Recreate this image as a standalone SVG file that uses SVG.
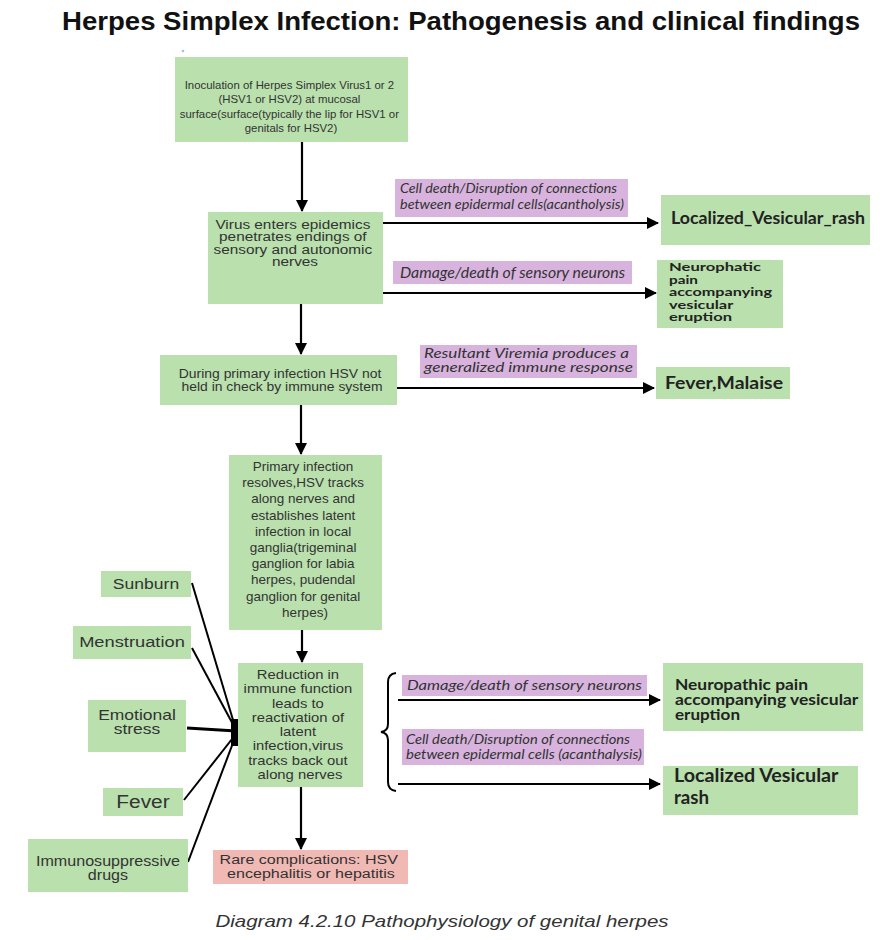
<svg xmlns="http://www.w3.org/2000/svg" width="891" height="940" viewBox="0 0 891 940">
<style>
.g{fill:#b9e0ad}
.p{fill:#d7b3dd}
.r{fill:#f1b9b4}
.t{font-family:"Liberation Sans",Arial,sans-serif;fill:#333;text-anchor:middle}
.i{font-family:Lato,"Open Sans",sans-serif;font-style:italic;fill:#333}
.b{font-family:Lato,"Open Sans",sans-serif;font-weight:bold;fill:#222}
.c{stroke:#000;stroke-width:2.2;fill:none}
.f{stroke:#000;stroke-width:2;fill:none}
</style>
<defs>
<marker id="ah" markerUnits="userSpaceOnUse" markerWidth="12" markerHeight="12" refX="11" refY="6" orient="auto">
<path d="M0,0 L12,6 L0,12 z" fill="#000"/>
</marker>
</defs>
<rect width="891" height="940" fill="#fff"/>
<text x="461" y="30" font-family="Liberation Sans,Arial,sans-serif" font-weight="bold" font-size="25.5" fill="#111" text-anchor="middle" textLength="798" lengthAdjust="spacingAndGlyphs">Herpes Simplex Infection: Pathogenesis and clinical findings</text>
<circle cx="183" cy="51" r="1.3" fill="#9cc4e4"/>

<g id="connectors">
<line class="c" x1="302" y1="142" x2="302" y2="211" marker-end="url(#ah)"/>
<line class="c" x1="383" y1="223" x2="658" y2="223" marker-end="url(#ah)"/>
<line class="c" x1="383" y1="293" x2="656" y2="293" marker-end="url(#ah)"/>
<line class="c" x1="301" y1="304" x2="301" y2="354" marker-end="url(#ah)"/>
<line class="c" x1="397" y1="388" x2="654" y2="388" marker-end="url(#ah)"/>
<line class="c" x1="301" y1="405" x2="301" y2="454" marker-end="url(#ah)"/>
<line class="c" x1="302" y1="630" x2="302" y2="662" marker-end="url(#ah)"/>
<line class="c" x1="301" y1="787" x2="301" y2="849" marker-end="url(#ah)"/>
<path class="f" d="M396,673 Q388,674 388,682 L388,724 Q388,731 381,732 Q388,733 388,740 L388,782 Q388,790 396,791"/>
<line class="c" x1="398" y1="700" x2="660" y2="700" marker-end="url(#ah)"/>
<line class="c" x1="398" y1="784" x2="660" y2="784" marker-end="url(#ah)"/>
<line class="f" x1="192" y1="583" x2="236" y2="730"/>
<line class="f" x1="192" y1="648" x2="236" y2="730"/>
<line stroke="#000" stroke-width="3.2" x1="187" y1="728" x2="236" y2="731"/>
<line class="f" x1="184" y1="800" x2="236" y2="734"/>
<line class="f" x1="188" y1="862" x2="236" y2="735"/>
<rect x="231" y="719" width="7" height="27" fill="#000"/>
</g>

<g id="n1">
<rect class="g" x="175" y="57" width="233" height="85"/>
<text class="t" font-size="10" transform="matrix(1.14 0 0 1 -40.74 0)">
<tspan x="291" y="89">Inoculation of Herpes Simplex Virus1 or 2</tspan>
<tspan x="291" y="103.5">(HSV1 or HSV2) at mucosal</tspan>
<tspan x="291" y="118">surface(surface(typically the lip for HSV1 or</tspan>
<tspan x="291" y="132.5">genitals for HSV2)</tspan>
</text>
</g>

<g id="n2">
<rect class="g" x="208" y="212" width="175" height="92"/>
<text class="t" font-size="12" transform="matrix(1.28 0 0 1 -82.6 0)">
<tspan x="295" y="229">Virus enters epidemics</tspan>
<tspan x="295" y="241.5">penetrates endings of</tspan>
<tspan x="295" y="254">sensory and autonomic</tspan>
<tspan x="295" y="266.5">nerves</tspan>
</text>
</g>

<g id="l1">
<rect class="p" x="395" y="179" width="233" height="38"/>
<text class="i" font-size="12.5"><tspan x="400" y="193" textLength="217" lengthAdjust="spacingAndGlyphs">Cell death/Disruption of connections</tspan><tspan x="400" y="209" textLength="224" lengthAdjust="spacingAndGlyphs">between epidermal cells(acantholysis)</tspan></text>
</g>

<g id="n3">
<rect class="g" x="661" y="195" width="209" height="50"/>
<text class="b" font-size="16.5" x="671" y="224" textLength="194" lengthAdjust="spacingAndGlyphs">Localized_Vesicular_rash</text>
</g>

<g id="l2">
<rect class="p" x="393" y="261" width="239" height="23"/>
<text class="i" font-size="14.5" x="400" y="278" textLength="225" lengthAdjust="spacingAndGlyphs">Damage/death of sensory neurons</text>
</g>

<g id="n4">
<rect class="g" x="657" y="260" width="126" height="68"/>
<text class="b" font-size="12">
<tspan x="669" y="271" textLength="92" lengthAdjust="spacingAndGlyphs">Neurophatic</tspan>
<tspan x="669" y="283.5" textLength="29" lengthAdjust="spacingAndGlyphs">pain</tspan>
<tspan x="669" y="296" textLength="103" lengthAdjust="spacingAndGlyphs">accompanying</tspan>
<tspan x="669" y="308.5" textLength="64" lengthAdjust="spacingAndGlyphs">vesicular</tspan>
<tspan x="669" y="321" textLength="63" lengthAdjust="spacingAndGlyphs">eruption</tspan>
</text>
</g>

<g id="n5">
<rect class="g" x="160" y="355" width="237" height="50"/>
<text class="t" font-size="12" transform="matrix(1.16 0 0 1 -45.12 0)">
<tspan x="282" y="378">During primary infection HSV not</tspan>
<tspan x="282" y="391">held in check by immune system</tspan>
</text>
</g>

<g id="l3">
<rect class="p" x="420" y="345" width="217" height="33"/>
<text class="i" font-size="13"><tspan x="424" y="358" textLength="205" lengthAdjust="spacingAndGlyphs">Resultant Viremia produces a</tspan><tspan x="424" y="371.5" textLength="209" lengthAdjust="spacingAndGlyphs">generalized immune response</tspan></text>
</g>

<g id="n6">
<rect class="g" x="656" y="367" width="134" height="32"/>
<text class="b" font-size="16.5" x="665" y="389" textLength="118" lengthAdjust="spacingAndGlyphs">Fever,Malaise</text>
</g>

<g id="n7">
<rect class="g" x="229" y="455" width="153" height="175"/>
<text class="t" font-size="13.5">
<tspan x="305" y="471">Primary infection</tspan>
<tspan x="305" y="487.2">resolves,HSV tracks</tspan>
<tspan x="305" y="503.4">along nerves and</tspan>
<tspan x="305" y="519.6">establishes latent</tspan>
<tspan x="305" y="535.8">infection in local</tspan>
<tspan x="305" y="552">ganglia(trigeminal</tspan>
<tspan x="305" y="568.2">ganglion for labia</tspan>
<tspan x="305" y="584.4">herpes, pudendal</tspan>
<tspan x="305" y="600.6">ganglion for genital</tspan>
<tspan x="305" y="616.8">herpes)</tspan>
</text>
</g>

<g id="n8">
<rect class="g" x="238" y="663" width="125" height="124"/>
<text class="t" font-size="13" transform="matrix(1.14 0 0 1 -42 0)">
<tspan x="300" y="679">Reduction in</tspan>
<tspan x="300" y="693.3">immune function</tspan>
<tspan x="300" y="707.6">leads to</tspan>
<tspan x="300" y="721.9">reactivation of</tspan>
<tspan x="300" y="736.2">latent</tspan>
<tspan x="300" y="750.5">infection,virus</tspan>
<tspan x="300" y="764.8">tracks back out</tspan>
<tspan x="300" y="779.1">along nerves</tspan>
</text>
</g>

<g id="l4">
<rect class="p" x="402" y="675" width="245" height="21"/>
<text class="i" font-size="14" x="407" y="690" textLength="235" lengthAdjust="spacingAndGlyphs">Damage/death of sensory neurons</text>
</g>

<g id="l5">
<rect class="p" x="402" y="729" width="242" height="36"/>
<text class="i" font-size="12.5"><tspan x="406" y="744" textLength="224" lengthAdjust="spacingAndGlyphs">Cell death/Disruption of connections</tspan><tspan x="406" y="759" textLength="236" lengthAdjust="spacingAndGlyphs">between epidermal cells (acanthalysis)</tspan></text>
</g>

<g id="n9">
<rect class="g" x="663" y="663" width="200" height="68"/>
<text class="b" font-size="15">
<tspan x="675" y="690" textLength="133" lengthAdjust="spacingAndGlyphs">Neuropathic pain</tspan>
<tspan x="675" y="705" textLength="183" lengthAdjust="spacingAndGlyphs">accompanying vesicular</tspan>
<tspan x="675" y="720" textLength="65" lengthAdjust="spacingAndGlyphs">eruption</tspan>
</text>
</g>

<g id="n10">
<rect class="g" x="663" y="766" width="195" height="49"/>
<text class="b" font-size="18">
<tspan x="674" y="782" textLength="164" lengthAdjust="spacingAndGlyphs">Localized Vesicular</tspan>
<tspan x="674" y="804" textLength="35" lengthAdjust="spacingAndGlyphs">rash</tspan>
</text>
</g>

<g id="n11">
<rect class="r" x="213" y="850" width="195" height="34"/>
<text class="t" font-size="13.5" transform="matrix(1.19 0 0 1 -59.09 0)">
<tspan x="311" y="864">Rare complications: HSV</tspan>
<tspan x="311" y="878">encephalitis or hepatitis</tspan>
</text>
</g>

<g id="s1">
<rect class="g" x="101" y="571" width="90" height="26"/>
<text class="t" font-size="15" x="146" y="589.5" transform="matrix(1.17 0 0 1 -24.82 0)">Sunburn</text>
</g>
<g id="s2">
<rect class="g" x="73" y="626" width="118" height="33"/>
<text class="t" font-size="15" x="132" y="647.5" transform="matrix(1.22 0 0 1 -29.04 0)">Menstruation</text>
</g>
<g id="s3">
<rect class="g" x="88" y="700" width="98" height="52"/>
<text class="t" font-size="14" transform="matrix(1.25 0 0 1 -34.25 0)"><tspan x="137" y="720">Emotional</tspan><tspan x="137" y="733.5">stress</tspan></text>
</g>
<g id="s4">
<rect class="g" x="103" y="788" width="80" height="28"/>
<text class="t" font-size="18" x="143" y="808.5" transform="matrix(1.16 0 0 1 -22.88 0)">Fever</text>
</g>
<g id="s5">
<rect class="g" x="28" y="839" width="160" height="53"/>
<text class="t" font-size="14" transform="matrix(1.15 0 0 1 -16.2 0)"><tspan x="108" y="866.5">Immunosuppressive</tspan><tspan x="108" y="880">drugs</tspan></text>
</g>

<text x="442" y="927" font-family="Liberation Sans,Arial,sans-serif" font-style="italic" font-size="17" fill="#333" text-anchor="middle" textLength="453" lengthAdjust="spacingAndGlyphs">Diagram 4.2.10 Pathophysiology of genital herpes</text>
</svg>
